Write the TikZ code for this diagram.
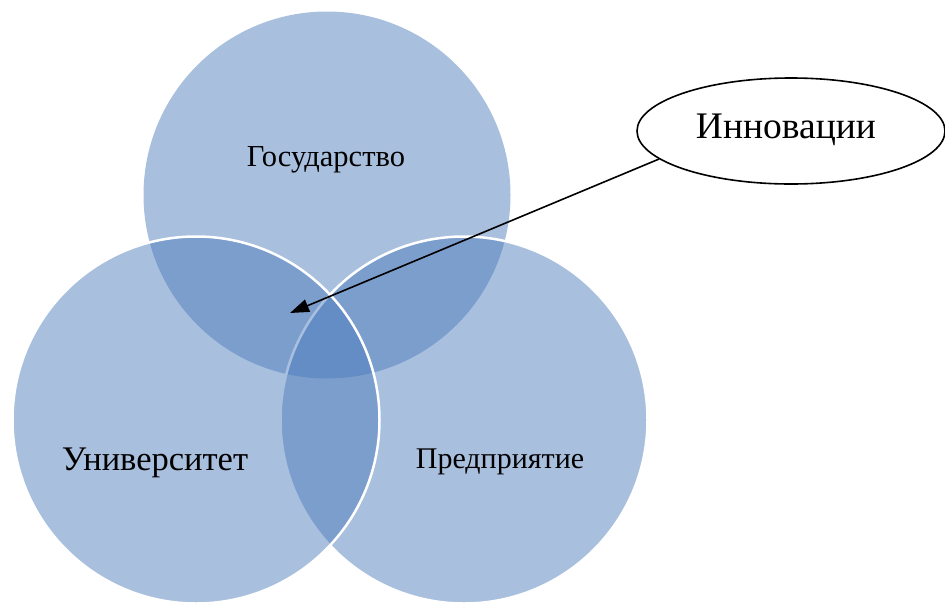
\documentclass[tikz,border=0pt]{standalone}
\usepackage{fontspec}
\setmainfont{Liberation Serif}
\usetikzlibrary{shapes.geometric,arrows.meta}
\definecolor{vennblue}{RGB}{75,122,187}
\tikzset{
  venn/.style={circle, inner sep=0pt, minimum size=367pt, fill=vennblue, fill opacity=0.48, draw=white, line width=2.5pt, draw opacity=1},
  vennlabel/.style={font=\fontsize{30.5}{33}\selectfont, text=black, inner sep=0pt},
}
\begin{document}
\begin{tikzpicture}[x=1pt,y=-1pt]
\useasboundingbox (0,0) rectangle (945,603);
\node[venn, draw=none] (gov) at (327,195) {};
\node[venn] (ent) at (464,420) {};
\node[venn] (uni) at (196,420) {};
\node[vennlabel] (tgov) at (326,160) {Государство};
\node[vennlabel, font=\fontsize{34.5}{37}\selectfont] (tuni) at (155,463) {Университет};
\node[vennlabel, font=\fontsize{30}{33}\selectfont] (tent) at (500,462) {Предприятие};
\node[ellipse, draw=black, line width=1.6pt, minimum width=308pt, minimum height=106pt, inner sep=0pt] (inn) at (791,131) {};
\node[inner sep=0pt, font=\fontsize{37.5}{40}\selectfont] (tinn) at (786,130) {Инновации};
\coordinate (tip) at (290,313);
\draw[line width=1.6pt, -{Triangle[length=19pt,width=13pt]}] (inn.192) -- (tip);
\end{tikzpicture}
\end{document}
